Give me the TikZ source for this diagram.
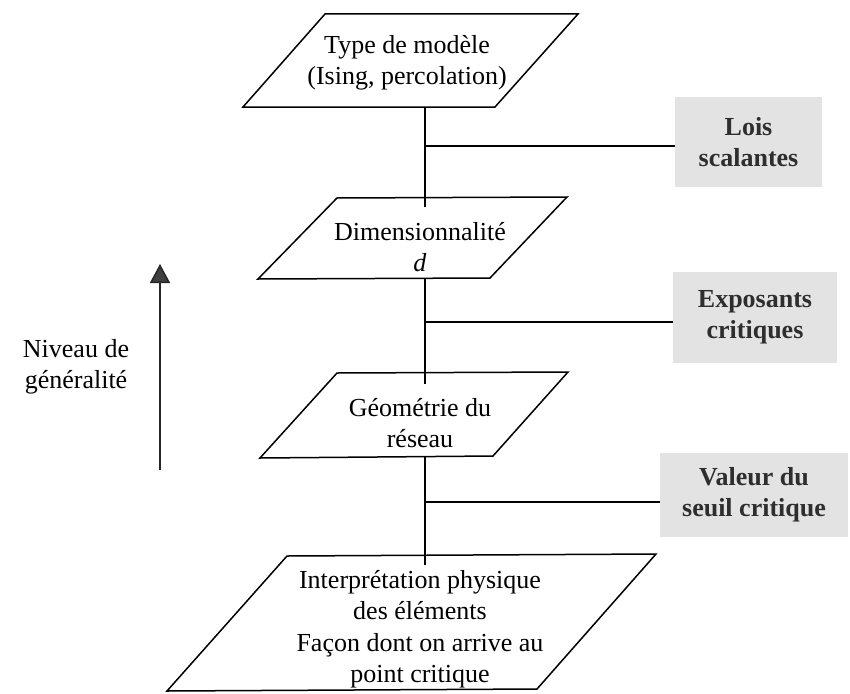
\documentclass[tikz,border=0pt]{standalone}
\usepackage{fontspec}
\setmainfont{Liberation Serif}
\usetikzlibrary{arrows.meta}
\definecolor{boxgray}{HTML}{E3E3E3}
\definecolor{boxtext}{HTML}{2E2E2E}
\begin{document}
\begin{tikzpicture}[x=1pt,y=-1pt,
  shapeline/.style={line width=1.5pt,line join=miter},
  conn/.style={line width=1.5pt},
  ptext/.style={align=center,font=\fontsize{26}{31.5}\selectfont,inner sep=0pt},
  resbox/.style={fill=boxgray,draw=none,align=center,text=boxtext,
    font=\fontsize{26}{31}\selectfont\bfseries,inner sep=0pt},
]
\useasboundingbox (0,0) rectangle (850,693);

% parallelograms
\draw[shapeline] (325,14) -- (578,14) -- (495,107) -- (243,107) -- cycle;
\draw[shapeline] (337,198) -- (567,197) -- (490,278) -- (258,279) -- cycle;
\draw[shapeline] (337,373) -- (568,372) -- (493,456) -- (260,458) -- cycle;
\draw[shapeline] (287,556) -- (656,554) -- (537,689) -- (167,691) -- cycle;

% texts of parallelograms
\node[ptext] (p1) at (407,63) {Type de modèle\\(Ising, percolation)};
\node[ptext] (p2) at (420,247) {Dimensionnalité\\\textit{d}};
\node[ptext] (p3) at (420,423) {Géométrie du\\réseau};
\node[ptext] (p4) at (420,629) {Interprétation physique\\des éléments\\Façon dont on arrive au\\point critique};

% coordinates on the spine
\coordinate (s1a) at (425,107);
\coordinate (s1b) at (425,207);
\coordinate (s2a) at (425,278);
\coordinate (s2b) at (425,384);
\coordinate (s3a) at (425,457);
\coordinate (s3b) at (425,565);
\coordinate (j1) at (425,146);
\coordinate (j2) at (425,322);
\coordinate (j3) at (425,502);

% result boxes
\node[resbox,minimum width=147pt,minimum height=90pt] (b1) at (748.5,142) {Lois\\scalantes};
\node[resbox,minimum width=164pt,minimum height=91pt] (b2) at (755,317.5) {Exposants\\critiques};
\node[resbox,minimum width=188pt,minimum height=84pt] (b3) at (754,495) {Valeur du\\seuil critique};

% spine
\draw[conn] (s1a) -- (s1b);
\draw[conn] (s2a) -- (s2b);
\draw[conn] (s3a) -- (s3b);

% branches
\draw[conn] (j1) -- (j1 -| b1.west);
\draw[conn] (j2) -- (j2 -| b2.west);
\draw[conn] (j3) -- (j3 -| b3.west);

% generality arrow
\coordinate (a0) at (160,470);
\coordinate (a1) at (160,264);
\draw[line width=1.5pt,-{Triangle[width=20pt,length=19pt,fill=black!75]},draw=black!85] (a0) -- (a1);
\node[ptext] (lvl) at (76,367) {Niveau de\\généralité};
\end{tikzpicture}
\end{document}
